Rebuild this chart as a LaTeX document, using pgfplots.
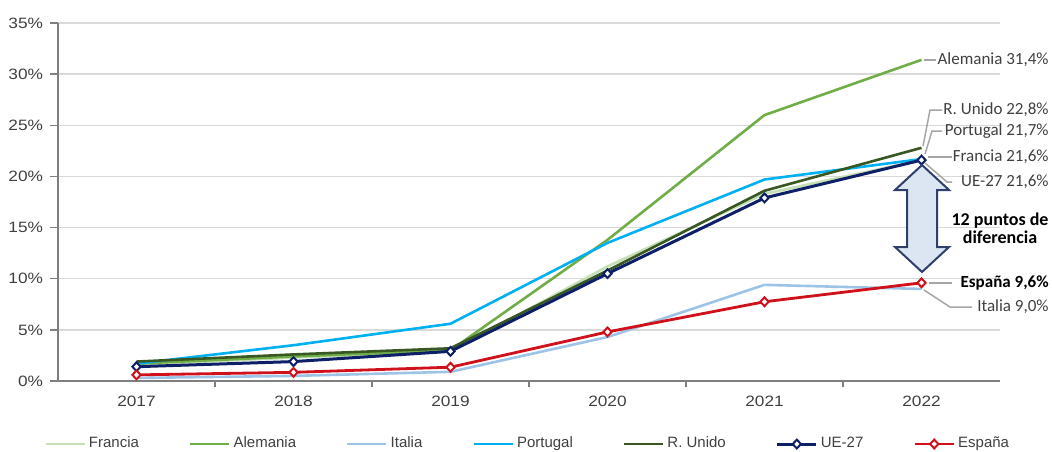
\documentclass[border=0pt]{standalone}
\usepackage{pgfplots}
\pgfplotsset{compat=1.18}
\usepackage{fontspec}
\setmainfont{Carlito}
\newfontfamily\tickfont[FakeStretch=1.15]{Liberation Sans}
\newfontfamily\legfont{Liberation Sans}
\definecolor{cFr}{HTML}{C5E0B4}
\definecolor{cAl}{HTML}{70AD47}
\definecolor{cIt}{HTML}{9DC3E6}
\definecolor{cPt}{HTML}{00B0F0}
\definecolor{cRU}{HTML}{385723}
\definecolor{cUE}{HTML}{0D1F66}
\definecolor{cEs}{HTML}{D0111B}
\definecolor{axisgray}{HTML}{7F7F7F}
\definecolor{gridgray}{HTML}{D9D9D9}
\definecolor{labelgray}{HTML}{404040}
\definecolor{leadgray}{HTML}{A6A6A6}
\definecolor{arrfill}{HTML}{DCE6F2}
\definecolor{arrline}{HTML}{2E3F6B}

\pgfplotstableread{
x Fr Al It Pt RU UE Es
0 1.6 1.7 0.3 1.7 1.9 1.4 0.6
1 2.3 2.4 0.5 3.5 2.6 1.9 0.85
2 2.9 3.0 0.9 5.6 3.2 2.9 1.35
3 11.2 13.8 4.3 13.5 10.8 10.5 4.8
4 18.3 26.0 9.4 19.7 18.6 17.9 7.75
5 21.6 31.4 9.0 21.7 22.8 21.6 9.6
}\datatable

\begin{document}
\begin{tikzpicture}
\begin{scope}[x=0.5pt,y=-0.5pt]
\path[use as bounding box] (0,0) rectangle (1052,450);
\end{scope}
\begin{axis}[
  at={(29pt,-190.5pt)}, anchor=south west,
  scale only axis, width=471pt, height=179pt,
  xmin=-0.5, xmax=5.5, ymin=0, ymax=35,
  axis x line=bottom, axis y line=left,
  axis line style={-, draw=axisgray, line width=0.75pt},
  xtick={0,...,5}, xticklabels={2017,2018,2019,2020,2021,2022},
  minor xtick={0.5,1.5,2.5,3.5,4.5},
  ytick={0,5,10,15,20,25,30,35},
  yticklabels={0\%,5\%,10\%,15\%,20\%,25\%,30\%,35\%},
  tick align=outside,
  major tick length=4pt, minor tick length=3pt,
  major x tick style={draw=none},
  tick style={draw=axisgray, line width=0.75pt},
  ymajorgrids, xmajorgrids=false,
  y grid style={draw=gridgray, line width=0.75pt},
  tick label style={font=\tickfont\fontsize{7.5pt}{9pt}\selectfont, text=labelgray},
  legend columns=7,
  legend style={at={(axis description cs:-0.0149,-0.176)}, anchor=west, draw=none, fill=none, inner sep=0pt,
    font=\legfont\fontsize{7.5pt}{9pt}\selectfont, text=labelgray, nodes={inner sep=0.5pt},
    /tikz/every even column/.append style={column sep=24.5pt},
    /tikz/every odd column/.append style={column sep=1pt}},
  legend image code/.code={\draw[mark repeat=2,mark phase=2,#1] plot coordinates {(0pt,0pt) (9.75pt,0pt) (19.5pt,0pt)};},
  every axis plot/.append style={line width=1.3pt},
  clip=false,
]
\addplot[cFr, no marks] table[x=x,y=Fr] {\datatable};
\addlegendentry{Francia}
\addplot[cAl, no marks] table[x=x,y=Al] {\datatable};
\addlegendentry{Alemania}
\addplot[cIt, no marks] table[x=x,y=It] {\datatable};
\addlegendentry{Italia}
\addplot[cPt, no marks] table[x=x,y=Pt] {\datatable};
\addlegendentry{Portugal}
\addplot[cRU, no marks] table[x=x,y=RU] {\datatable};
\addlegendentry{R. Unido}
\addplot[cUE, line width=1.5pt, mark=diamond*, mark size=2.2pt, mark options={fill=white, draw=cUE, line width=1pt, solid, xscale=1.25}] table[x=x,y=UE] {\datatable};
\addlegendentry{UE-27}
\addplot[cEs, line width=1.4pt, mark=diamond*, mark size=2.2pt, mark options={fill=white, draw=cEs, line width=1pt, solid, xscale=1.25}] table[x=x,y=Es] {\datatable};
\addlegendentry{España}
\end{axis}
\begin{scope}[x=0.5pt,y=-0.5pt]
\draw[leadgray, line width=0.75pt] (924,60) -- (936,60);
\draw[leadgray, line width=0.75pt] (923,146) -- (930,110) -- (942,110);
\draw[leadgray, line width=0.75pt] (925,154) -- (932,131) -- (942,131);
\draw[leadgray, line width=0.75pt] (928,157) -- (952,157);
\draw[leadgray, line width=0.75pt] (925,163) -- (947,182) -- (952,182);
\draw[leadgray, line width=0.75pt] (929,283) -- (952,283);
\draw[leadgray, line width=0.75pt] (924,290) -- (950,307) -- (972,307);
\tikzset{lab/.style={anchor=east, inner sep=0pt, text=labelgray, font=\fontsize{8.5pt}{10pt}\selectfont}}
\node[lab] at (1049,60) {Alemania 31,4\%};
\node[lab] at (1049,110) {R. Unido 22,8\%};
\node[lab] at (1049,131) {Portugal 21,7\%};
\node[lab] at (1049,157) {Francia 21,6\%};
\node[lab] at (1049,182) {UE-27 21,6\%};
\node[lab, text=black, font=\bfseries\fontsize{8.5pt}{10pt}\selectfont] at (1049,283) {España 9,6\%};
\node[lab] at (1049,307) {Italia 9,0\%};
\filldraw[fill=arrfill, draw=arrline, line width=1pt, line join=miter]
  (922,165) -- (949,190) -- (937,190) -- (937,247) -- (949,247) -- (922,272)
  -- (895,247) -- (907,247) -- (907,190) -- (895,190) -- cycle;
\node[align=center, text=black, inner sep=0pt, font=\bfseries\fontsize{9pt}{9pt}\selectfont] at (1000,228) {12 puntos de\\diferencia};
\end{scope}
\end{tikzpicture}
\end{document}
